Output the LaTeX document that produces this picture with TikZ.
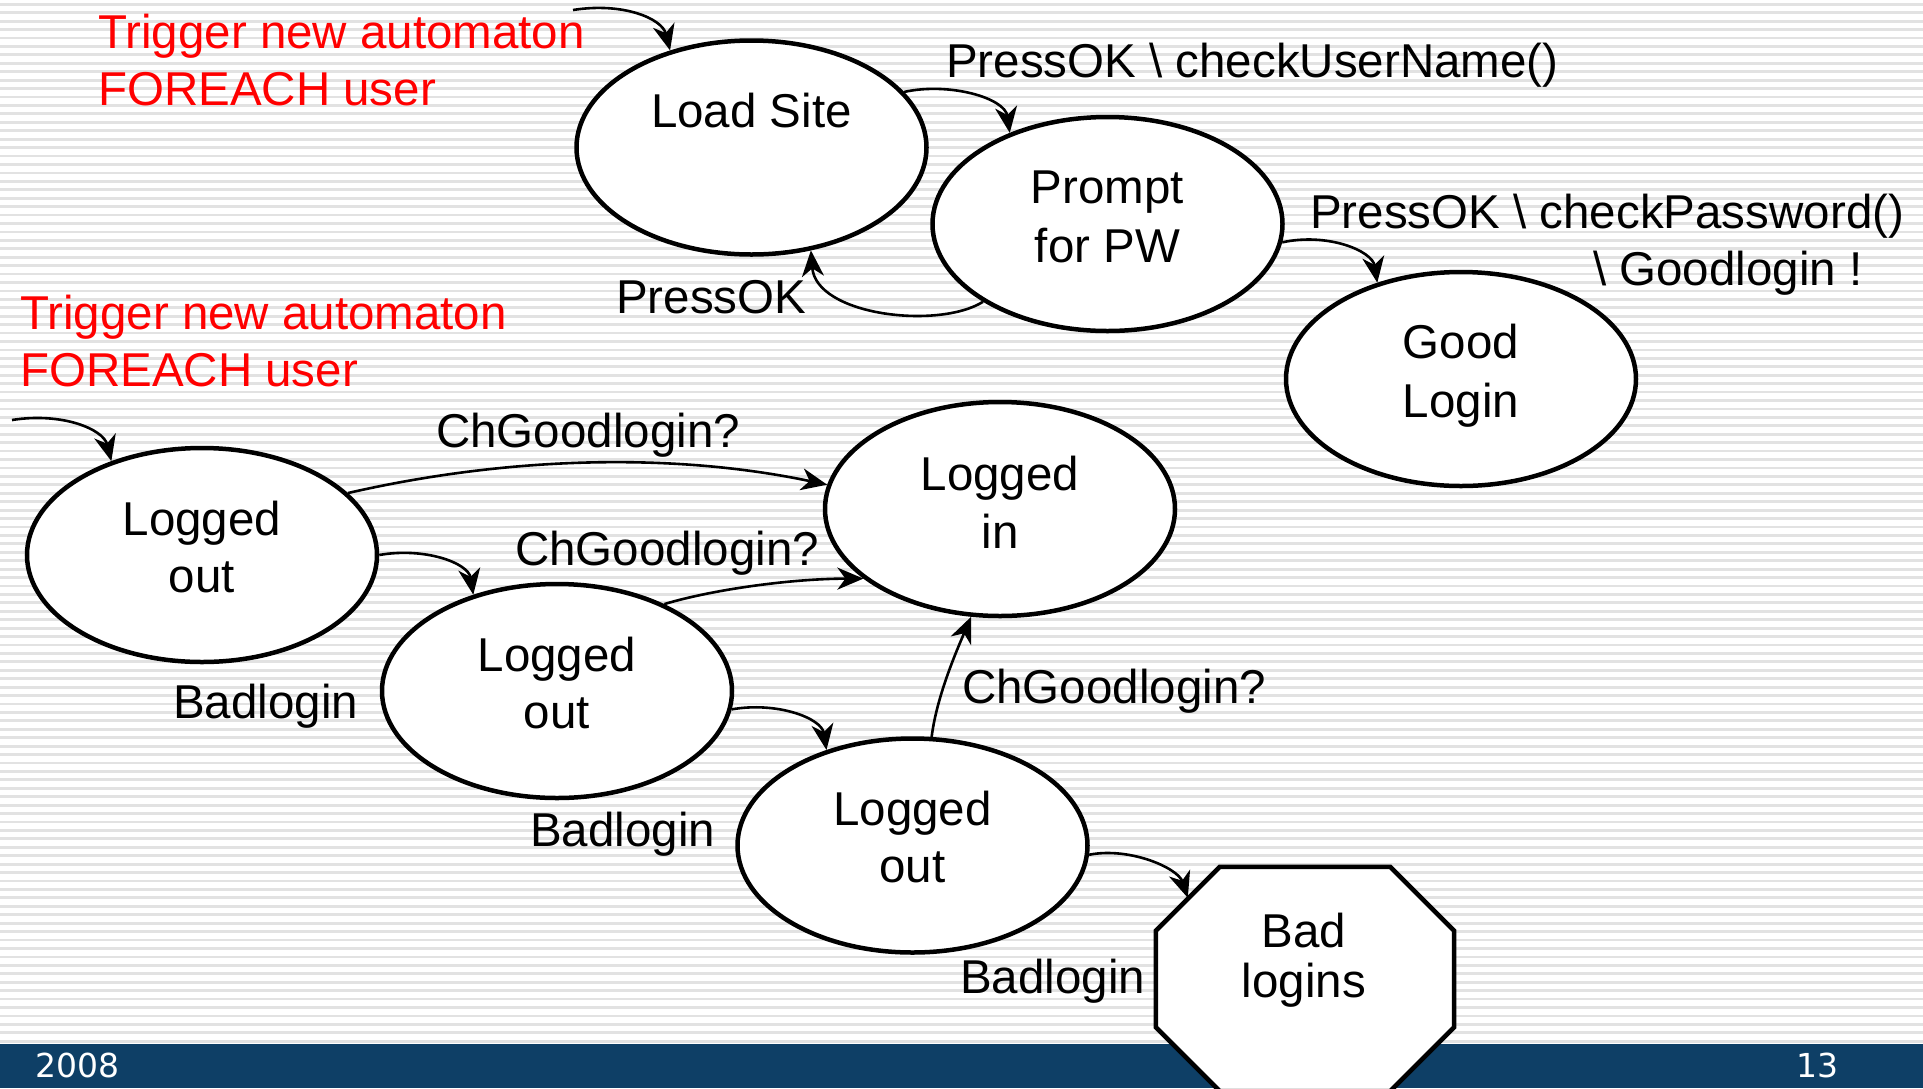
\documentclass[tikz,border=0pt]{standalone}
\usepackage{fontspec}
\setmainfont{Liberation Sans}
\newfontfamily\barfont{DejaVu Sans}
\usetikzlibrary{arrows.meta,calc,shapes.geometric}
\definecolor{barblue}{RGB}{14,63,102}
\definecolor{stripegray}{RGB}{226,226,226}
\begin{document}
\begin{tikzpicture}[x=1pt,y=-1pt,
  state/.style={ellipse, draw, line width=4.5pt, fill=white, minimum width=350pt, minimum height=214pt, inner sep=0pt},
  txt/.style={font=\fontsize{47.5}{57}\selectfont, inner sep=0pt, anchor=base},
  lbl/.style={font=\fontsize{47.5}{57}\selectfont, inner sep=0pt, anchor=base west},
  redlbl/.style={lbl, text=red},
  conn/.style={line width=2.6pt, -{Stealth[length=26pt,width=22pt,inset=8pt]}},
  barlbl/.style={font=\barfont\fontsize{33}{38}\selectfont, text=white, inner sep=0pt, anchor=base west}]
\useasboundingbox (0,0) rectangle (1923,1088);
\clip (0,0) rectangle (1923,1088);
% background
\fill[white] (0,0) rectangle (1923,1088);
\foreach \i in {0,...,123} {
  \draw[stripegray, line width=2.8pt] (0,4.3+8.43*\i) -- (1923,4.3+8.43*\i);
}
\fill[barblue] (0,1043.5) rectangle (1923,1088);
\node[barlbl] (yr) at (35,1077) {2008};
\node[barlbl] (pg) at (1796,1077) {13};

% states
\node[state] (ls) at (751.5,147.5) {};
\node[state] (pw) at (1107.5,224) {};
\node[state] (gl) at (1461,379) {};
\node[state] (li) at (1000,509) {};
\node[state] (lo1) at (202,555) {};
\node[state] (lo2) at (557,691) {};
\node[state] (lo3) at (912.5,845.5) {};

% octagon
\node[minimum width=298pt, minimum height=224pt, inner sep=0pt] (bad) at (1305,979) {};
\draw[line width=4.5pt, fill=white, line join=miter]
  ($(bad.north west)+(64,0)$) -- ($(bad.north east)+(-64,0)$) -- ($(bad.north east)+(0,64)$)
  -- ($(bad.south east)+(0,-64)$) -- ($(bad.south east)+(-64,0)$) -- ($(bad.south west)+(64,0)$)
  -- ($(bad.south west)+(0,-64)$) -- ($(bad.north west)+(0,64)$) -- cycle;

% state texts
\node[txt] (lsa) at ($(ls)+(0,-20)$) {Load Site};
\node[txt] (pwa) at ($(pw)+(0,-21)$) {Prompt};
\node[txt] (pwb) at ($(pw)+(0,38)$) {for PW};
\node[txt] (gla) at ($(gl)+(0,-21)$) {Good};
\node[txt] (glb) at ($(gl)+(0,38)$) {Login};
\node[txt] (lia) at ($(li)+(0,-19)$) {Logged};
\node[txt] (lib) at ($(li)+(0,39)$) {in};
\node[txt] (lo1a) at ($(lo1)+(0,-20)$) {Logged};
\node[txt] (lo1b) at ($(lo1)+(0,37)$) {out};
\node[txt] (lo2a) at ($(lo2)+(0,-20)$) {Logged};
\node[txt] (lo2b) at ($(lo2)+(0,37)$) {out};
\node[txt] (lo3a) at ($(lo3)+(0,-20)$) {Logged};
\node[txt] (lo3b) at ($(lo3)+(0,37)$) {out};
\node[txt] (bada) at (1304,947) {Bad};
\node[txt] (badb) at (1304,997) {logins};

% red notes
\node[redlbl] (r1a) at (98,48) {Trigger new automaton};
\node[redlbl] (r1b) at (98,105) {FOREACH user};
\node[redlbl] (r2a) at (20,329) {Trigger new automaton};
\node[redlbl] (r2b) at (20,386) {FOREACH user};

% connectors
\coordinate (s1) at (573,10);
\coordinate (s2) at (12,420);
\draw[conn] (s1) .. controls +(50,-8) and +(-8,-32) .. (ls.130);
\draw[conn] (s2) .. controls +(50,-8) and +(-8,-32) .. (lo1.134);
\draw[conn] (ls.20) .. controls +(45,-10) and +(-5,-35) .. (pw.137);
\draw[conn] (pw.212) .. controls +(-45,28) and +(5,65) .. (ls.300);
\draw[conn] (pw.354) .. controls +(45,-10) and +(-5,-32) .. (gl.131);
\draw[conn] (lo1.23) .. controls +(157,-36) and +(-157,-33) .. (li.172);
\draw[conn] (lo1.0) .. controls +(45,-8) and +(-5,-32) .. (lo2.131);
\draw[conn] (lo2.39) .. controls +(50,-15) and +(-70,0) .. (li.207);
\draw[conn] (lo2.354) .. controls +(45,-8) and +(-5,-32) .. (lo3.132);
\draw[conn] (lo3.80) .. controls +(5,-40) and +(-15,35) .. (li.255);
\draw[conn] (lo3.357) .. controls +(40,-8) and +(-10,-30) .. ($(bad.north west)+(32,31)$);

% connector labels
\node[lbl] (l1) at (946,77) {PressOK \textbackslash{} checkUserName()};
\node[lbl] (l2) at (616,313) {PressOK};
\node[lbl] (l3) at (1310,228) {PressOK \textbackslash{} checkPassword()};
\node[lbl] (l3b) at (1593,285) {\textbackslash{} Goodlogin !};
\node[lbl] (l4) at (436,447) {ChGoodlogin?};
\node[lbl] (l5) at (515,565) {ChGoodlogin?};
\node[lbl] (l6) at (962,703) {ChGoodlogin?};
\node[lbl] (b1) at (173,718) {Badlogin};
\node[lbl] (b2) at (530,846) {Badlogin};
\node[lbl] (b3) at (960,993) {Badlogin};
\end{tikzpicture}
\end{document}
